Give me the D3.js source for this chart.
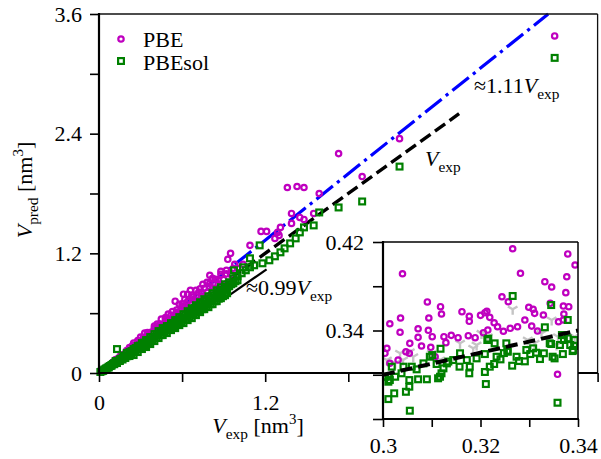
<!DOCTYPE html>
<html><head><meta charset="utf-8">
<script src="https://cdn.jsdelivr.net/npm/d3@7"></script>
<style>body{margin:0;background:#fff}</style>
</head><body><svg id="c" width="601" height="459" font-family="Liberation Serif" style="font-family:Liberation Serif"></svg>
<script>
// ---------- DATA ----------
const mainTicks=[0,0.6,1.2,1.8,2.4,3.0,3.6];
const mainYTickLabels=["0","","1.2","","2.4","","3.6"];
const mainXTickLabels=["0","","1.2","","2.4","",""];
const insetXTicks=[0.30,0.31,0.32,0.33,0.34];
const insetXTickLabels=["0.3","","0.32","","0.34"];
const insetYTicks=[0.26,0.30,0.34,0.38,0.42];
const insetYTickLabels=["","","0.34","","0.42"];
const seriesNames=["PBE","PBEsol"];
const fitSlope=1.11;          // ≈1.11 V_exp line
const identityEnd=2.6;        // V_exp line end
const guideSeg=[[0.9,0.74],[1.21,1.04]]; // ≈0.99 V_exp guide

const pbeMain=[
[0.04,0.042],[0.07,0.073],[0.10,0.104],[0.14,0.146],[0.18,0.187],[0.22,0.229],[0.26,0.27],[0.30,0.312],[0.34,0.354],[0.38,0.395],[0.42,0.437],[0.46,0.478],[0.50,0.52],[0.54,0.56],[0.58,0.603],[0.62,0.645],[0.66,0.686],[0.70,0.728],[0.74,0.77],[0.78,0.81],[0.82,0.853],[0.86,0.894],[0.90,0.936],[0.95,0.99],[1.00,1.05],[1.04,1.09],
[0.10,0.108],[0.15,0.162],[0.20,0.216],[0.26,0.28],[0.32,0.345],[0.38,0.41],[0.44,0.475],[0.50,0.54],[0.56,0.605],[0.62,0.67],[0.68,0.735],[0.74,0.80],[0.80,0.865],[0.86,0.93],[0.92,0.995],[0.97,1.05],
[0.12,0.134],[0.16,0.18],[0.20,0.224],[0.24,0.27],[0.28,0.314],[0.32,0.358],[0.36,0.40],[0.40,0.448],[0.44,0.49],[0.48,0.54],[0.52,0.58],[0.56,0.63],[0.60,0.67],[0.64,0.72],[0.68,0.76],[0.72,0.81],[0.76,0.85],[0.80,0.90],[0.84,0.94],[0.88,0.99],[0.92,1.03],
[0.22,0.255],[0.28,0.325],[0.35,0.405],[0.42,0.49],[0.48,0.555],[0.53,0.615],[0.60,0.695],[0.67,0.78],[0.73,0.845],[0.82,0.95],[0.88,1.02],
[0.25,0.30],[0.30,0.36],[0.33,0.40],[0.40,0.47],[0.45,0.54],[0.50,0.59],[0.58,0.69],[0.62,0.74],[0.70,0.83],
[0.55,0.72],[0.61,0.79],[0.64,0.79],[0.66,0.83],[0.75,0.89],[0.78,0.91],[0.80,0.98],[0.93,1.14],[0.95,1.20],[0.98,1.09],[1.09,1.28],
[1.17,1.42],[1.21,1.42],[1.29,1.41],[1.31,1.46],[1.39,1.50],[1.27,1.35],[1.30,1.38],[1.45,1.56],[1.48,1.54],[1.39,1.60],[1.55,1.60],
[1.36,1.86],[1.43,1.87],[1.48,1.86],[1.59,1.80],[1.73,2.20],[1.90,1.97],[2.17,2.35],[3.29,3.38]
];
const pbesolMain=[
[0.01,0.01],[0.02,0.018],[0.03,0.027],[0.04,0.036],[0.05,0.045],[0.06,0.052],[0.07,0.063],[0.08,0.07],[0.09,0.08],[0.10,0.09],[0.11,0.098],[0.12,0.105],[0.13,0.118],[0.14,0.122],[0.15,0.137],[0.16,0.14],[0.17,0.155],[0.18,0.152],[0.19,0.175],[0.20,0.168],
[0.03,0.022],[0.05,0.04],[0.07,0.055],[0.09,0.072],[0.11,0.088],[0.13,0.10],[0.15,0.12],[0.17,0.135],[0.19,0.15],[0.21,0.17],
[0.12,0.12],[0.15,0.125],[0.18,0.17],[0.20,0.20],[0.13,0.24],
[0.22,0.21],[0.22,0.19],[0.22,0.17],
[0.25,0.24],[0.25,0.22],[0.25,0.18],
[0.28,0.27],[0.28,0.25],[0.28,0.21],
[0.31,0.30],[0.31,0.28],[0.31,0.24],
[0.34,0.33],[0.34,0.30],[0.34,0.26],
[0.37,0.36],[0.37,0.33],[0.37,0.29],
[0.40,0.39],[0.40,0.36],[0.40,0.32],
[0.43,0.42],[0.43,0.38],[0.43,0.35],
[0.46,0.45],[0.46,0.41],[0.46,0.38],
[0.49,0.47],[0.49,0.44],[0.49,0.40],
[0.52,0.50],[0.52,0.47],[0.52,0.43],
[0.55,0.53],[0.55,0.49],[0.55,0.45],
[0.58,0.56],[0.58,0.52],[0.58,0.48],
[0.61,0.59],[0.61,0.55],[0.61,0.50],
[0.64,0.62],[0.64,0.57],[0.64,0.53],
[0.67,0.65],[0.67,0.60],[0.67,0.55],
[0.70,0.68],[0.70,0.63],[0.70,0.58],
[0.73,0.71],[0.73,0.66],[0.73,0.61],
[0.76,0.74],[0.76,0.69],[0.76,0.64],
[0.79,0.77],[0.79,0.71],[0.79,0.66],
[0.82,0.80],[0.82,0.75],[0.82,0.69],
[0.85,0.83],[0.85,0.78],[0.85,0.72],
[0.88,0.86],[0.88,0.81],[0.88,0.75],
[0.91,0.89],[0.91,0.84],[0.91,0.78],
[0.235,0.22],[0.235,0.20],[0.265,0.25],[0.265,0.225],[0.295,0.275],[0.295,0.25],[0.325,0.305],[0.325,0.28],[0.355,0.33],[0.355,0.305],[0.385,0.36],[0.385,0.33],[0.415,0.39],[0.415,0.355],[0.445,0.415],[0.445,0.38],[0.475,0.445],[0.475,0.41],[0.505,0.47],[0.505,0.435],[0.535,0.50],[0.535,0.46],[0.565,0.53],[0.565,0.485],[0.595,0.555],[0.595,0.51],[0.625,0.585],[0.625,0.535],[0.655,0.61],[0.655,0.565],[0.685,0.64],[0.685,0.59],[0.715,0.67],[0.715,0.615],[0.745,0.695],[0.745,0.64],[0.775,0.725],[0.775,0.665],[0.805,0.75],[0.805,0.69],[0.835,0.78],[0.835,0.72],[0.865,0.81],[0.865,0.745],[0.895,0.835],[0.895,0.77],[0.925,0.865],[0.925,0.80],[0.955,0.89],[0.985,0.92],
[0.94,0.91],[0.94,0.87],[0.97,0.95],[0.97,0.90],[1.00,0.97],[1.00,0.93],[1.03,1.00],[1.06,1.03],[1.09,1.06],[1.12,1.08],
[0.975,1.03],[1.04,1.06],[1.09,1.15],[1.16,1.28],[1.18,1.10],[1.23,1.13],[1.27,1.17],[1.31,1.21],[1.34,1.25],[1.38,1.30],[1.42,1.35],[1.45,1.41],[1.48,1.46],[1.55,1.48],[1.59,1.61],[1.73,1.66],[1.90,1.72],[2.17,2.07],[3.29,3.16]
];
const pbeInset=[
[0.3266,0.4139],[0.3379,0.4092],[0.3394,0.3992],[0.3040,0.3913],[0.3282,0.3917],[0.3332,0.3841],[0.3346,0.3793],[0.3377,0.3886],[0.3375,0.3742],[0.3091,0.3658],[0.3118,0.3615],[0.3120,0.3549],[0.3036,0.3513],[0.3014,0.3461],[0.3094,0.3513],[0.3162,0.3570],[0.3177,0.3528],[0.3177,0.3483],[0.3200,0.3537],[0.3213,0.3573],[0.3219,0.3519],[0.3228,0.3470],[0.3244,0.3705],[0.3257,0.3660],[0.3299,0.3610],[0.3308,0.3591],[0.3329,0.3540],[0.3343,0.3646],[0.3370,0.3621],[0.3381,0.3615],[0.3072,0.3416],[0.3093,0.3402],[0.3101,0.3344],[0.3035,0.3384],[0.3072,0.3338],[0.3125,0.3344],[0.3140,0.3356],[0.3154,0.3335],[0.3175,0.3353],[0.3189,0.3335],[0.3206,0.3380],[0.3215,0.3404],[0.3235,0.3434],[0.3247,0.3393],[0.3261,0.3420],[0.3276,0.3434],[0.3291,0.3495],[0.3305,0.3440],[0.3317,0.3395],[0.3360,0.3479],[0.3370,0.3495],[0.3008,0.3239],[0.3004,0.3194],[0.3055,0.3284],[0.3054,0.3194],[0.3079,0.3260],[0.3098,0.3248],[0.3129,0.3290],[0.3047,0.3208],[0.3107,0.3163],[0.3358,0.3004],[0.3014,0.3103],[0.3031,0.3133],[0.3311,0.3555],[0.3371,0.3549],[0.3209,0.3561]
];
const pbesolInset=[
[0.3266,0.3712],[0.3345,0.3630],[0.3379,0.3495],[0.3332,0.3429],[0.3216,0.3326],[0.3253,0.3284],[0.3118,0.3235],[0.3101,0.3178],[0.3158,0.3194],[0.3209,0.3187],[0.3248,0.3196],[0.3308,0.3239],[0.3345,0.3278],[0.3379,0.3329],[0.3367,0.3359],[0.3363,0.3269],[0.3384,0.3269],[0.3392,0.3260],[0.3348,0.3163],[0.3369,0.3187],[0.3389,0.3214],[0.3302,0.3187],[0.3330,0.3194],[0.3291,0.3121],[0.3265,0.3082],[0.3228,0.3097],[0.3209,0.3025],[0.3211,0.2916],[0.3177,0.3013],[0.3157,0.3073],[0.3124,0.3058],[0.3117,0.2982],[0.3172,0.3133],[0.3192,0.3148],[0.3096,0.3163],[0.3083,0.3103],[0.3072,0.2959],[0.3042,0.3073],[0.3054,0.2952],[0.3025,0.2982],[0.3011,0.2937],[0.3047,0.2846],[0.3054,0.2892],[0.3011,0.2780],[0.3023,0.2832],[0.3055,0.2675],[0.3358,0.2747],[0.3219,0.3073],[0.3233,0.3163],[0.3256,0.3208],[0.3274,0.3163],[0.3144,0.3133],[0.3131,0.3103],[0.3110,0.3097],[0.3069,0.3049],[0.3011,0.2982],[0.3038,0.3013],[0.3059,0.3073],[0.3090,0.2959],[0.3113,0.2968],[0.3120,0.3013],[0.3134,0.3119],[0.3178,0.3073],[0.3014,0.2952],[0.3004,0.2982],[0.3018,0.3073],[0.3214,0.3314],[0.3229,0.3284],[0.3294,0.3224],[0.3314,0.3199],[0.3342,0.3284],[0.3352,0.3148],[0.3371,0.3314],[0.3390,0.3224],[0.3393,0.3314],[0.3322,0.3142],[0.3279,0.3124],[0.3241,0.3139],[0.3255,0.3217]
];
const modelInset=[
[0.3266,0.3592],[0.3346,0.3495],[0.3035,0.3194],[0.3055,0.3208],[0.3062,0.3163],[0.3158,0.3284],[0.3192,0.3269],[0.3185,0.3239],[0.3117,0.3133],[0.3008,0.3133],[0.3025,0.3103],[0.3100,0.3194],[0.3202,0.3374],[0.3215,0.3344],[0.3297,0.3314],[0.3311,0.3284],[0.3359,0.3344],[0.3393,0.3344],[0.3325,0.3374],[0.3356,0.3269],[0.3041,0.3133]
];

// ---------- DRAW ----------
const MAG="#bf00bf", GRN="#008000", BLU="#0000ff", GRY="#c4c4c4";
const FAM="Liberation Serif";
const FS=22, SUBF=0.7;
const svg=d3.select("#c");
function font(sel,size){ return sel.attr("font-family",FAM).style("font-family",FAM).attr("font-size",size).style("font-size",size+"px"); }

function rich(g,px,py,parts,opts){
  const t=font(g.append("text"),opts.size).attr("x",px).attr("y",py)
    .attr("fill","#000").attr("text-anchor",opts.anchor||"start");
  if(opts.rotate) t.attr("transform",`rotate(${opts.rotate},${px},${py})`);
  let shift=0;
  parts.forEach(p=>{
    let target=0, fs=opts.size;
    if(p.sub){target=opts.size*0.27; fs=opts.size*SUBF;}
    if(p.sup){target=-opts.size*0.4; fs=opts.size*0.68;}
    const s=font(t.append("tspan"),fs).text(p.t).attr("dy",target-shift);
    if(p.i) s.attr("font-style","italic").style("font-style","italic");
    shift=target;
  });
  return t;
}

const x=d3.scaleLinear().domain([0,3.6]).range([99,597.6]);
const y=d3.scaleLinear().domain([0,3.6]).range([373,14]);
const main=svg.append("g");
const ln=(sx,sy)=>d3.line().x(d=>sx(d[0])).y(d=>sy(d[1]));

// reference lines (under markers)
main.append("path").datum([[0,0],[3.6/fitSlope,3.6]]).attr("d",ln(x,y))
  .attr("stroke",BLU).attr("stroke-width",3.2).attr("fill","none").attr("stroke-dasharray","21,5.3,3.2,5.3");
main.append("path").datum([[0,0],[identityEnd,identityEnd]]).attr("d",ln(x,y))
  .attr("stroke","#000").attr("stroke-width",3.4).attr("fill","none").attr("stroke-dasharray","12.5,5.5");
main.append("path").datum(guideSeg).attr("d",ln(x,y))
  .attr("stroke","#000").attr("stroke-width",2.2).attr("fill","none");

function circles(g,data,sx,sy){
  g.selectAll(null).data(data).enter().append("circle")
   .attr("cx",d=>sx(d[0])).attr("cy",d=>sy(d[1])).attr("r",2.7)
   .attr("fill","none").attr("stroke",MAG).attr("stroke-width",2.2);
}
function squares(g,data,sx,sy){
  g.selectAll(null).data(data).enter().append("rect")
   .attr("x",d=>sx(d[0])-2.9).attr("y",d=>sy(d[1])-2.9).attr("width",5.8).attr("height",5.8)
   .attr("fill","none").attr("stroke",GRN).attr("stroke-width",2.2);
}
function tris(g,data,sx,sy){
  g.selectAll(null).data(data).enter().append("path")
   .attr("d",d=>{const cx=sx(d[0]),cy=sy(d[1]),r=5.5;
     return `M${cx},${cy}L${cx},${cy+r}M${cx},${cy}L${cx-r*0.87},${cy-r*0.5}M${cx},${cy}L${cx+r*0.87},${cy-r*0.5}`;})
   .attr("stroke",GRY).attr("stroke-width",2.4).attr("fill","none");
}
circles(main.append("g"),pbeMain,x,y);
squares(main.append("g"),pbesolMain,x,y);

// main axes
const yAx=d3.axisLeft(y).tickValues(mainTicks).tickSize(9).tickPadding(8).tickFormat((d,i)=>mainYTickLabels[i]);
const xAx=d3.axisBottom(x).tickValues(mainTicks).tickSize(9).tickPadding(12).tickFormat((d,i)=>mainXTickLabels[i]);
function styleAxis(g){
  g.select(".domain").remove();
  g.attr("font-family",FAM).attr("font-size",FS);
  g.selectAll(".tick line").attr("stroke","#000").attr("stroke-width",1.6);
  font(g.selectAll(".tick text"),FS).attr("fill","#000");
}
svg.append("g").attr("transform","translate(99,0)").call(yAx).call(styleAxis);
svg.append("g").attr("transform","translate(0,373)").call(xAx).call(styleAxis);
// spines
svg.append("line").attr("x1",99).attr("x2",597.6).attr("y1",14).attr("y2",14).attr("stroke","#111").attr("stroke-width",1.3);
svg.append("line").attr("x1",597.6).attr("x2",597.6).attr("y1",14).attr("y2",373).attr("stroke","#111").attr("stroke-width",1.3);
svg.append("line").attr("x1",99).attr("x2",99).attr("y1",13).attr("y2",374).attr("stroke","#000").attr("stroke-width",2.2);
svg.append("line").attr("x1",98).attr("x2",598).attr("y1",373).attr("y2",373).attr("stroke","#000").attr("stroke-width",2.2);

// axis labels
rich(svg,258,433,[{t:"V",i:1},{t:"exp",sub:1},{t:" [nm"},{t:"3",sup:1},{t:"]"}],{size:FS,anchor:"middle"});
rich(svg,32,190,[{t:"V",i:1},{t:"pred",sub:1},{t:" [nm"},{t:"3",sup:1},{t:"]"}],{size:FS,anchor:"middle",rotate:-90});

// annotations
rich(svg,474,93,[{t:"≈1.11"},{t:"V",i:1},{t:"exp",sub:1}],{size:FS});
rich(svg,425,166,[{t:"V",i:1},{t:"exp",sub:1}],{size:FS});
rich(svg,246,295,[{t:"≈0.99"},{t:"V",i:1},{t:"exp",sub:1}],{size:FS});

// legend
const leg=svg.append("g");
circles(leg,[[0,0]],()=>121,()=>39);
squares(leg,[[0,0]],()=>121,()=>61);
font(leg.selectAll(null).data(seriesNames).enter().append("text"),FS)
  .attr("x",143).attr("y",(d,i)=>47+i*23).text(d=>d).attr("fill","#000");

// ---------- INSET ----------
const xi=d3.scaleLinear().domain([0.30,0.34]).range([383,578]);
const yi=d3.scaleLinear().domain([0.26,0.42]).range([419,242]);
const inset=svg.append("g");
inset.append("rect").attr("x",383).attr("y",242).attr("width",195).attr("height",177).attr("fill","#fff");
svg.append("clipPath").attr("id","ic").append("rect").attr("x",383).attr("y",242).attr("width",195).attr("height",177);
const ip=inset.append("g").attr("clip-path","url(#ic)");
tris(ip.append("g"),modelInset,xi,yi);
circles(ip.append("g"),pbeInset,xi,yi);
squares(ip.append("g"),pbesolInset,xi,yi);
ip.append("path").datum([[0.30,0.30],[0.34,0.34]]).attr("d",ln(xi,yi))
  .attr("stroke","#000").attr("stroke-width",4).attr("fill","none").attr("stroke-dasharray","12,6");
const yiAx=d3.axisLeft(yi).tickValues(insetYTicks).tickSize(10).tickPadding(9).tickFormat((d,i)=>insetYTickLabels[i]);
const xiAx=d3.axisBottom(xi).tickValues(insetXTicks).tickSize(8).tickPadding(10).tickFormat((d,i)=>insetXTickLabels[i]);
inset.append("g").attr("transform","translate(383,0)").call(yiAx).call(styleAxis);
inset.append("g").attr("transform","translate(0,419)").call(xiAx).call(styleAxis);
inset.append("line").attr("x1",383).attr("x2",578).attr("y1",242).attr("y2",242).attr("stroke","#000").attr("stroke-width",1.5);
inset.append("line").attr("x1",578).attr("x2",578).attr("y1",242).attr("y2",419).attr("stroke","#000").attr("stroke-width",1.5);
inset.append("line").attr("x1",383).attr("x2",383).attr("y1",241).attr("y2",420).attr("stroke","#000").attr("stroke-width",2.2);
inset.append("line").attr("x1",382).attr("x2",579).attr("y1",419).attr("y2",419).attr("stroke","#000").attr("stroke-width",2.2);
</script></body></html>
